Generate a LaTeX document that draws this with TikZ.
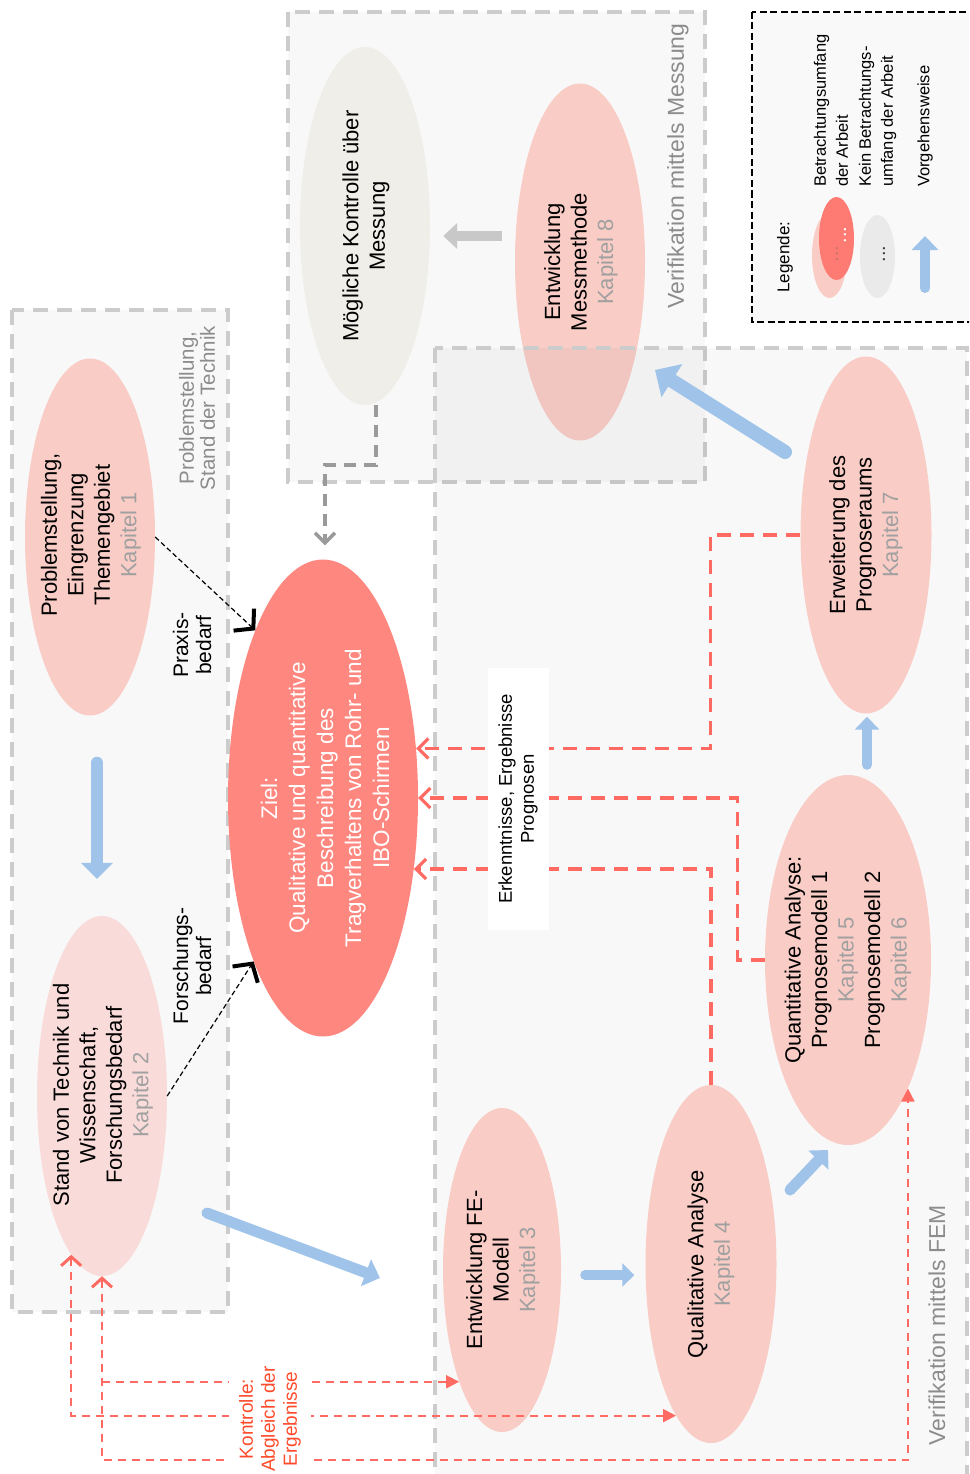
\documentclass[tikz,border=0pt]{standalone}
\usepackage{fontspec}
\setmainfont{Liberation Sans}
\usetikzlibrary{shapes.geometric,arrows.meta,calc}
\definecolor{pale}{HTML}{F9CCC6}
\definecolor{palell}{HTML}{F9DCDA}
\definecolor{zielc}{HTML}{FE8880}
\definecolor{mogc}{HTML}{EFEEE8}
\definecolor{bluec}{HTML}{9FC3E9}
\definecolor{redc}{HTML}{FF6B63}
\definecolor{kapc}{HTML}{A0A0A0}
\definecolor{boxline}{HTML}{CCCCCC}
\definecolor{boxfill}{HTML}{F8F8F8}
\definecolor{blabel}{HTML}{8C8C8C}
\definecolor{kontrc}{HTML}{FF4B2B}
\definecolor{grayarr}{HTML}{C8C8C8}
\definecolor{graydash}{HTML}{9A9A9A}
\definecolor{legred}{HTML}{FD7B73}
\definecolor{leggray}{HTML}{EAEAEA}
\definecolor{legfill}{HTML}{F9F9F9}
\definecolor{legdot}{HTML}{C8756E}
\newcommand{\kapx}[1]{\textcolor{kapc}{#1}}
\tikzset{
  chev/.tip={Straight Barb[length=9pt,width=20pt,line width=3pt]},
  tri/.tip={Triangle[length=13pt,width=13pt]},
}
\begin{document}
\begin{tikzpicture}[x=1pt,y=-1pt,
  ell/.style={ellipse, draw=none, inner sep=0pt},
  txt/.style={rotate=90, align=center, inner sep=0pt, font=\fontsize{22}{26.5}\selectfont},
  region/.style={draw=boxline, line width=4.5pt, dash pattern=on 15pt off 9pt},
  rlabel/.style={rotate=90, align=center, inner sep=0pt, text=blabel, font=\fontsize{23}{22}\selectfont},
  blarr/.style n args={3}{draw=bluec, line width=#1, line cap=round, -{Triangle[length=#2, width=#3]}},
  grarr/.style={draw=grayarr, line width=10pt, -{Triangle[length=14pt, width=25pt]}},
  reddash/.style={draw=redc, line width=3.2pt, dash pattern=on 14pt off 9pt, -{Straight Barb[length=10pt,width=20pt,line width=3.2pt]}},
  blkdash/.style={draw=black, line width=1.2pt, dash pattern=on 5pt off 3pt, -{Straight Barb[length=13pt,width=30pt,line width=4pt]}},
  gdash/.style={draw=graydash, line width=4pt, dash pattern=on 12pt off 8pt, -{Straight Barb[length=10pt,width=20pt,line width=3.5pt]}},
  kontr/.style={draw=redc, line width=2pt, dash pattern=on 8pt off 6pt},
  legtxt/.style={rotate=90, align=left, anchor=west, inner sep=0pt, font=\fontsize{16.5}{22}\selectfont},
]
\useasboundingbox (0,0) rectangle (969,1474);
\clip (0,0) rectangle (969,1474);

% regions
\path[region, fill=boxfill] (12,310) rectangle (228,1312);
\path[region, fill=boxfill] (288,12) rectangle (705,482);
\path[fill=legfill, draw=black, line width=2pt, dash pattern=on 7pt off 3.5pt] (752,12) rectangle (990,322);

% ellipses under region 3
\node[ell, fill=pale, minimum width=130pt, minimum height=357pt] (e8) at (580,262) {};
\node[ell, fill=mogc, minimum width=130pt, minimum height=358pt] (mog) at (365,226) {};
\path[region, fill=black, fill opacity=0.028] (435,348) rectangle (967,1500);

% other ellipses
\node[ell, fill=pale, minimum width=130pt, minimum height=357pt] (e1) at (90,537) {};
\node[ell, fill=palell, minimum width=130pt, minimum height=360pt] (e2) at (102,1096) {};
\node[ell, fill=zielc, minimum width=190pt, minimum height=477pt] (ziel) at (323,798) {};
\node[ell, fill=pale, minimum width=118pt, minimum height=324pt] (e3) at (502,1270) {};
\node[ell, fill=pale, minimum width=131pt, minimum height=358pt] (e4) at (711,1264) {};
\node[ell, fill=pale, minimum width=166pt, minimum height=370pt] (e5) at (848,960) {};
\node[ell, fill=pale, minimum width=131pt, minimum height=357pt] (e7) at (866,535) {};

% texts
\node[txt] (t1) at (91,535) {Problemstellung,\\Eingrenzung\\Themengebiet\\\kapx{Kapitel 1}};
\node[txt] (t2) at (103,1095) {Stand von Technik und\\Wissenschaft,\\Forschungsbedarf\\\kapx{Kapitel 2}};
\node[txt, text=white, font=\fontsize{22.5}{28}\selectfont] (tz) at (325,798) {Ziel:\\Qualitative und quantitative\\Beschreibung des\\Tragverhaltens von Rohr- und\\IBO-Schirmen};
\node[txt] (tm) at (366,226) {Mögliche Kontrolle über\\Messung};
\node[txt] (t8) at (581,262) {Entwicklung\\Messmethode\\\kapx{Kapitel 8}};
\node[txt] (t3) at (503,1270) {Entwicklung FE-\\Modell\\\kapx{Kapitel 3}};
\node[txt] (t4) at (711,1264) {Qualitative Analyse\\\kapx{Kapitel 4}};
\node[txt] (t5) at (848,960) {Quantitative Analyse:\\Prognosemodell 1\\\kapx{Kapitel 5}\\Prognosemodell 2\\\kapx{Kapitel 6}};
\node[txt] (t7) at (866,535) {Erweiterung des\\Prognoseraums\\\kapx{Kapitel 7}};

% region labels
\node[rlabel, font=\fontsize{20.5}{21}\selectfont] (l1) at (197,408) {Problemstellung,\\Stand der Technik};
\node[rlabel] (l2) at (678,166) {Verifikation mittels Messung};
\node[rlabel] (l3) at (937,1325) {Verifikation mittels FEM};

% blue process arrows
\draw[blarr={12pt}{16pt}{31pt}] ($(e1.south)+(7,47)$) -- ($(e2.north)+(-5,-37)$);
\draw[blarr={11pt}{15pt}{28pt}] ($(e2.center)+(105,117)$) -- ($(e3.center)+(-122,8)$);
\draw[blarr={10pt}{12pt}{23pt}] ($(e3.east)+(24,5)$) -- ($(e4.west)+(-11,11)$);
\draw[blarr={11pt}{14pt}{27pt}] ($(e4.center)+(79,-74)$) -- ($(e5.center)+(-20,190)$);
\draw[blarr={10pt}{13pt}{24pt}] ($(e5.north)+(19,-10)$) -- ($(e7.south)+(1,3)$);
\draw[blarr={14pt}{20pt}{38pt}] ($(e7.center)+(-81,-83)$) -- ($(e8.center)+(75,108)$);

% gray arrow
\draw[grarr] ($(e8.west)+(-13,-26)$) -- ($(mog.east)+(13,10)$);

% dashed connectors
\draw[gdash] ($(mog.south)+(11,0)$) -- ++(0,60) -| ($(ziel.north)+(2,-14)$);
\draw[blkdash] (e1.east) -- (ziel.112.4);
\draw[blkdash] (e2.east) -- (ziel.247.9);
\draw[reddash] (e7.west) -- ++(-90,0) |- (ziel.28);
\draw[reddash] (e5.west) -- ++(-27,0) |- (ziel.east);
\draw[reddash] (e4.north) |- (ziel.-38.5);

\node[rotate=90, fill=white, minimum width=262pt, minimum height=61pt, align=center, inner sep=0pt, font=\fontsize{18.5}{22}\selectfont] (erk) at (518,799) {Erkenntnisse, Ergebnisse\\Prognosen};

% Kontrolle
\draw[kontr, chev-tri] (e2.259.4) |- (e4.257.9);
\draw[kontr, chev-tri] (e2.south) -- ++(0,184) -| (e5.-65.6);
\draw[kontr, -tri] (e3.249.8 -| e2.south) -- (e3.249.8);
\node[rotate=90, fill=white, align=center, text=kontrc, inner xsep=2pt, inner ysep=10pt, font=\fontsize{19}{22}\selectfont] (ktr) at (270,1419) {Kontrolle:\\Abgleich der\\Ergebnisse};

% legend
\node[rotate=90, inner sep=0pt, font=\fontsize{17}{20}\selectfont] (leg) at (785,257) {Legende:};
\node[ell, fill=pale, minimum width=35pt, minimum height=85pt] (lp) at (829.5,255.5) {};
\node[ell, fill=legred, minimum width=35pt, minimum height=83pt] (lr) at (836.5,238.5) {};
\node[ell, fill=leggray, minimum width=35pt, minimum height=83pt] (lg) at (877.5,256.5) {};
\node[rotate=90, inner sep=0pt, text=legdot, font=\fontsize{20}{20}\selectfont] (lpd) at (837,254) {...};
\node[rotate=90, inner sep=0pt, text=white, font=\fontsize{20}{20}\selectfont] (lrd) at (845,235) {...};
\node[rotate=90, inner sep=0pt, text=black!75, font=\fontsize{20}{20}\selectfont] (lgd) at (884,254) {...};
\coordinate (la1) at (925,288);
\coordinate (la2) at (925,236);
\draw[blarr={10pt}{14pt}{26pt}] (la1) -- (la2);
\node[legtxt] (lt1) at (831,187) {Betrachtungsumfang\\der Arbeit};
\node[legtxt] (lt2) at (877.5,187) {Kein Betrachtungs-\\umfang der Arbeit};
\node[legtxt] (lt3) at (925,187) {Vorgehensweise};

% need labels
\node[rotate=90, align=center, inner sep=0pt, font=\fontsize{21}{23}\selectfont] (pb) at (192,645) {Praxis-\\bedarf};
\node[rotate=90, align=center, inner sep=0pt, font=\fontsize{21}{23}\selectfont] (fb) at (192,966) {Forschungs-\\bedarf};
\end{tikzpicture}
\end{document}
